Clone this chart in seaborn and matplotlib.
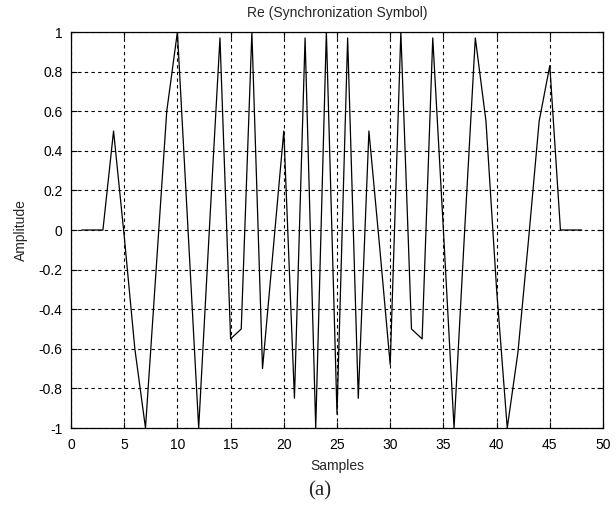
import matplotlib
matplotlib.use("Agg")
import matplotlib.pyplot as plt
import seaborn as sns
import pandas as pd
from matplotlib.ticker import FuncFormatter

# ---- data ----
samples = list(range(1, 49))
amplitude = [0, 0, 0, 0.5, -0.03, -0.6, -1, -0.2, 0.6, 1,
             0, -1, 0, 0.97, -0.55, -0.5, 1, -0.7, -0.1, 0.5,
             -0.85, 0.97, -1, 1, -0.93, 0.97, -0.85, 0.5, -0.08, -0.68,
             1, -0.5, -0.55, 0.97, 0, -1, 0, 0.97, 0.55, -0.3,
             -1, -0.62, -0.05, 0.55, 0.83, 0, 0, 0]
x_ticks = [0, 5, 10, 15, 20, 25, 30, 35, 40, 45, 50]
y_ticks = [-1, -0.8, -0.6, -0.4, -0.2, 0, 0.2, 0.4, 0.6, 0.8, 1]
title_text = "Re (Synchronization Symbol)"
x_label = "Samples"
y_label = "Amplitude"
caption = "(a)"

df = pd.DataFrame({"Samples": samples, "Amplitude": amplitude})

sns.set_style("white")
plt.rcParams["font.family"] = ["Liberation Sans", "DejaVu Sans"]
plt.rcParams["axes.unicode_minus"] = False

fig = plt.figure(figsize=(6.16, 5.08), dpi=100)
ax = fig.add_axes([71 / 616, 1 - 428 / 508, (603 - 71) / 616, (428 - 32) / 508])

sns.lineplot(data=df, x="Samples", y="Amplitude", ax=ax, color="black",
             linewidth=0.9, estimator=None, sort=False)

ax.set_xlim(0, 50)
ax.set_ylim(-1, 1)
ax.set_xticks(x_ticks)
ax.set_yticks(y_ticks)


def fmt(v, pos):
    s = ("%.1f" % v).rstrip("0").rstrip(".")
    if s == "-0":
        s = "0"
    return s


ax.yaxis.set_major_formatter(FuncFormatter(fmt))
ax.xaxis.set_major_formatter(FuncFormatter(fmt))

ax.grid(True, color="black", linestyle=(0, (3, 3)), linewidth=0.8)
for sp in ax.spines.values():
    sp.set_color("black")
    sp.set_linewidth(0.9)
ax.tick_params(direction="in", length=4, width=0.8, colors="black",
               labelsize=10, top=True, right=True, bottom=True, left=True)
ax.tick_params(axis="x", pad=7)
ax.tick_params(axis="y", pad=6)

ax.set_title(title_text, fontsize=10, pad=11)
ax.set_xlabel(x_label, fontsize=10, labelpad=5)
ax.set_ylabel(y_label, fontsize=10, labelpad=8)

fig.text(320 / 616, 1 - 491 / 508, caption, ha="center", va="center",
         fontsize=15, family=["Liberation Serif", "DejaVu Serif"])

fig.savefig("out.png", dpi=100, facecolor="white")
